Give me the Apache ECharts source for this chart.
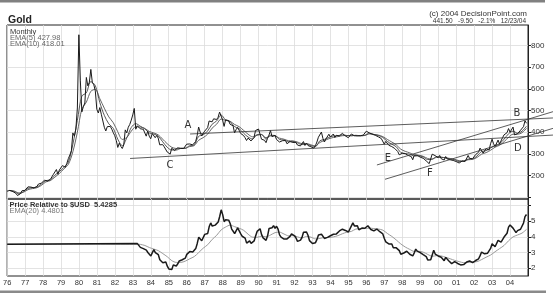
<!DOCTYPE html>
<html><head><meta charset="utf-8">
<script src="https://cdn.jsdelivr.net/npm/echarts@6/dist/echarts.min.js"></script>
<style>html,body{margin:0;padding:0;background:#fff}#c{width:554px;height:294px}</style>
</head><body><div id="c"></div>
<script>
// ---------------- DATA ----------------
const startYear = 1976;               // first month = Jan 1976
// Gold, monthly (Jan 1976 .. Dec 2004)
const goldMonthly = [
 128,132,132,128,126,126,118,108,114,117,130,134,
 132,136,148,149,147,141,143,145,150,161,161,165,
 173,179,184,175,176,183,188,206,212,228,206,226,
 227,246,242,239,257,279,295,315,397,382,415,512,
 850,637,494,518,535,653,614,631,690,629,619,590,
 506,489,514,483,480,423,406,426,428,427,414,398,
 384,362,330,350,335,325,342,411,397,423,436,456,
 480,510,414,430,437,416,423,414,405,382,405,382,
 370,394,395,375,385,373,342,348,343,333,329,309,
 303,299,326,322,316,317,328,334,325,326,325,327,
 345,339,346,340,342,345,357,384,424,401,383,391,
 405,405,421,452,454,448,462,454,459,469,493,499,
 457,427,457,451,454,437,437,430,397,412,422,410,
 395,387,385,375,362,373,368,360,367,376,408,401,
 415,407,368,368,363,352,372,387,408,380,385,386,
 367,362,355,358,361,367,362,347,354,357,366,353,
 354,353,341,336,337,343,357,339,349,339,334,333,
 330,327,338,355,377,378,401,372,355,369,371,391,
 378,381,392,376,386,386,383,386,395,389,383,383,
 375,376,392,389,384,387,383,382,384,383,387,387,
 405,401,397,392,391,383,386,387,379,379,371,369,
 345,358,349,340,345,334,326,325,332,311,296,290,
 303,297,301,309,293,296,288,273,294,292,294,288,
 285,288,280,286,268,262,255,255,299,300,292,288,
 283,293,278,276,272,288,277,278,273,264,270,274,
 265,267,258,264,267,270,265,273,293,279,275,278,
 282,297,302,308,327,318,304,312,324,317,318,347,
 368,347,334,336,364,346,354,375,388,384,398,417,
 400,396,424,388,395,393,391,409,416,426,453,441.5
];
// EMA(5) and EMA(10) read at quarter ends (Mar, Jun, Sep, Dec) from 1976
const ema5Quarterly = [
 131,127,115,126, 141,144,147,161, 177,180,202,219, 238,262,345,455,
 567,582,634,615, 537,478,439,418, 368,338,374,422, 440,428,416,397,
 392,382,356,331, 318,318,325,326, 338,342,381,388, 406,437,452,480,
 457,449,426,417, 396,378,369,389, 390,368,386,385, 367,364,357,358,
 351,343,346,338, 334,361,367,376, 383,384,388,385, 384,386,384,386,
 396,390,385,376, 358,345,333,307, 302,299,290,291, 286,274,276,287,
 285,282,277,273, 265,267,276,277, 291,311,315,327, 340,347,368,393,
 405,396,405,428
];
const ema10Quarterly = [
 130,128,120,123, 135,140,144,155, 171,177,193,210, 231,252,310,400,
 507,539,589,598, 555,511,471,444, 402,367,376,405, 425,424,418,404,
 397,388,368,347, 331,325,327,326, 334,338,363,375, 391,419,437,461,
 455,451,436,426, 409,391,379,386, 389,375,383,383, 373,368,361,360,
 355,348,348,342, 337,353,362,370, 376,380,384,385, 384,385,384,385,
 392,390,387,380, 367,355,342,322, 312,305,296,294, 289,279,276,284,
 284,282,279,275, 269,268,273,275, 284,299,306,317, 331,340,356,377,
 391,391,398,418
];
// Price relative to $USD: flat level before the series starts, then monthly from Apr 1983
const relFlatValue = 3.53;
const relStartMonth = 87;             // Apr 1983 (months after Jan 1976)
const relMonthly = [
 3.57,3.59,3.33,3.35,3.25,3.24,3.15,3.00,2.98,
 2.78,2.99,3.18,3.00,2.88,2.86,2.54,2.50,2.35,2.33,2.40,2.13,
 1.95,1.85,1.92,2.20,2.11,2.14,2.28,2.46,2.38,2.54,2.60,2.64,
 2.88,2.95,3.06,3.04,3.03,3.06,3.25,3.58,3.98,4.03,3.75,3.76,
 4.16,4.09,4.22,4.66,4.89,4.69,4.59,4.75,4.79,4.95,5.30,5.73,
 5.42,4.97,5.10,5.20,5.07,4.85,4.50,4.36,4.21,4.27,4.57,4.49,
 4.21,4.04,3.98,3.92,3.60,3.53,3.75,3.58,3.58,3.74,4.06,4.35,
 4.41,4.52,4.14,3.94,3.97,3.78,4.07,4.54,4.52,4.58,4.72,4.55,
 4.68,4.49,4.13,3.98,3.97,3.86,3.87,3.87,3.88,4.03,4.19,4.30,
 4.07,3.93,3.71,3.67,3.79,3.97,4.30,4.29,4.31,4.10,3.76,3.71,
 3.58,3.54,3.63,3.84,4.12,4.09,4.17,4.08,3.90,3.96,3.97,4.07,
 4.07,4.06,4.17,4.10,4.19,4.29,4.38,4.32,4.49,4.58,4.41,4.31,
 4.31,4.38,4.70,4.89,4.70,4.72,4.71,4.45,4.45,4.56,4.54,4.55,
 4.60,4.71,4.60,4.47,4.45,4.38,4.45,4.50,4.40,4.33,4.34,4.19,
 3.90,3.68,3.70,3.55,3.62,3.55,3.31,3.24,3.30,3.35,3.12,2.89,
 2.86,2.97,2.93,3.08,2.99,2.89,2.90,2.78,2.98,3.22,3.09,3.10,
 2.99,2.90,2.86,2.79,2.74,2.53,2.51,2.54,2.65,3.14,2.90,2.80,
 2.78,2.86,2.70,2.59,2.48,2.69,2.61,2.47,2.37,2.29,2.27,2.42,
 2.37,2.30,2.25,2.21,2.31,2.23,2.25,2.39,2.50,2.46,2.38,2.36,
 2.35,2.49,2.49,2.60,2.80,3.03,2.96,2.92,2.98,2.96,3.04,3.26,
 3.56,3.59,3.37,3.31,3.78,3.79,3.66,3.67,3.99,4.08,4.23,4.62,
 4.76,4.66,4.56,4.49,4.27,4.40,4.52,4.49,4.61,4.88,5.29,5.43
];
// EMA(20) of the relative, quarter ends from Jun 1983
const relEmaStartMonth = 89;          // Jun 1983
const relEma20Quarterly = [
 3.52,3.45,3.32,
 3.22,3.12,2.93,2.73, 2.48,2.37,2.37,2.45, 2.60,2.74,3.00,3.28, 3.50,3.84,4.10,4.45,
 4.63,4.75,4.65,4.55, 4.42,4.17,3.98,3.97, 4.05,4.00,4.12,4.27, 4.30,4.18,4.07,4.08,
 4.00,3.93,4.03,3.98, 3.87,3.90,3.96,3.96, 4.00,4.08,4.20,4.30, 4.35,4.50,4.52,4.53,
 4.56,4.53,4.50,4.43, 4.22,4.03,3.80,3.55, 3.35,3.20,3.07,3.08, 3.02,2.88,2.76,2.80,
 2.78,2.70,2.60,2.50, 2.42,2.35,2.37,2.40, 2.42,2.55,2.70,2.84, 3.05,3.25,3.45,3.75,
 4.00,4.12,4.24,4.48
];
const priceTicks = [200,300,400,500,600,700,800];
const priceGrid  = [100,200,300,400,500,600,700,800];
const relTicks = [2,3,4,5];
const relGrid  = [2,3,4,5,6];
// hand-drawn trend lines [year, price] -> [year, price], and their letters
const trendLines = [
 [[1986.19,392],[2006.39,466]],
 [[1982.85,279],[2006.39,387]],
 [[1996.59,249],[2006.39,495]],
 [[1997.04,183],[2006.39,418]]
];
const trendLetters = [
 ['A',1986.07,433],['B',2004.39,489],['C',1985.07,249],
 ['D',2004.44,327],['E',1997.2,281],['F',1999.54,212]
];

// ---------------- CHART ----------------
const mx = i => startYear + i / 12;
const priceData = goldMonthly.map((v,i)=>[mx(i), v]);
const e5Data = ema5Quarterly.map((v,k)=>[mx(3*k+2), v]);
const e10Data = ema10Quarterly.map((v,k)=>[mx(3*k+2), v]);
const relData = [[startYear, relFlatValue]].concat(relMonthly.map((v,i)=>[mx(relStartMonth+i), v]));
const relEmaData = [[startYear, relFlatValue],[mx(relStartMonth), relFlatValue]]
  .concat(relEma20Quarterly.map((v,k)=>[mx(relEmaStartMonth+3*k), v]));

const chart = echarts.init(document.getElementById('c'), null, {renderer:'canvas'});
const FONT = 'Liberation Sans, Arial, sans-serif';
const gridLine = {show:true, lineStyle:{color:'#dcdcdc', width:0.8}};
const xCommon = {type:'value', min:1976, max:2005, interval:1, splitLine:gridLine,
  axisLine:{show:false}, axisTick:{show:false}};
const yCommon = {type:'value', position:'right',
  axisLine:{show:true, lineStyle:{color:'#222', width:1}},
  axisTick:{show:true, length:3, lineStyle:{color:'#222'}},
  axisLabel:{fontSize:8, color:'#333', margin:3, fontFamily:FONT},
  splitLine:gridLine};

chart.setOption({
  animation:false,
  backgroundColor:'#fff',
  grid:[
    {left:7, right:26, top:25, height:174, show:true, borderColor:'#222', borderWidth:1, backgroundColor:'transparent'},
    {left:7, right:26, top:199, height:77, show:true, borderColor:'#222', borderWidth:1, backgroundColor:'transparent'}
  ],
  xAxis:[
    Object.assign({gridIndex:0, axisLabel:{show:false}}, xCommon),
    Object.assign({gridIndex:1, axisLabel:{show:true, fontSize:7.5, color:'#333', margin:3, fontFamily:FONT,
      showMaxLabel:false, formatter:v=>String(v).slice(2)}}, xCommon)
  ],
  yAxis:[
    Object.assign({}, yCommon, {gridIndex:0, min:92, max:895,
      axisLabel:Object.assign({}, yCommon.axisLabel, {customValues:priceTicks}),
      axisTick:Object.assign({}, yCommon.axisTick, {customValues:priceGrid})}),
    Object.assign({}, yCommon, {gridIndex:1, min:1.5, max:6.42,
      axisLabel:Object.assign({}, yCommon.axisLabel, {customValues:relTicks}),
      axisTick:Object.assign({}, yCommon.axisTick, {customValues:relGrid})})
  ],
  series:[
    {type:'line', xAxisIndex:0, yAxisIndex:0, data:e10Data, showSymbol:false, smooth:0.3,
      lineStyle:{color:'#555', width:0.9}, z:2},
    {type:'line', xAxisIndex:0, yAxisIndex:0, data:e5Data, showSymbol:false, smooth:0.3,
      lineStyle:{color:'#444', width:0.9}, z:2},
    {type:'line', xAxisIndex:0, yAxisIndex:0, data:priceData, showSymbol:false,
      lineStyle:{color:'#1a1a1a', width:1}, z:3},
    {type:'line', xAxisIndex:1, yAxisIndex:1, data:relEmaData, showSymbol:false, smooth:0.3,
      lineStyle:{color:'#9a9a9a', width:1}, z:2},
    {type:'line', xAxisIndex:1, yAxisIndex:1, data:relData, showSymbol:false,
      lineStyle:{color:'#1a1a1a', width:1.5}, z:3}
  ]
});

const g = [];
// scan edges
g.push({type:'rect', shape:{x:0,y:0,width:545,height:2.5}, style:{fill:'#808080'}, silent:true});
g.push({type:'rect', shape:{x:0,y:290.5,width:546,height:2.5}, style:{fill:'#8a8a8a'}, silent:true});
// texts
const txt = (t,x,y,opt) => g.push({type:'text', silent:true, z:50, style:Object.assign({text:t, x:x, y:y,
  font:'7.5px '+FONT, fill:'#333', textVerticalAlign:'middle'}, opt||{})});
txt('Gold', 8, 20, {font:'bold 10.5px '+FONT, fill:'#222'});
txt('(c) 2004 DecisionPoint.com', 527, 14, {font:'8px '+FONT, textAlign:'right', fill:'#333'});
txt('441.50   -9.50   -2.1%   12/23/04', 526, 21.2, {font:'6.5px '+FONT, textAlign:'right', fill:'#333'});
txt('Monthly', 10, 31.5, {fill:'#333'});
txt('EMA(5) 427.98', 10, 37.5, {fill:'#666'});
txt('EMA(10) 418.01', 10, 44, {fill:'#666'});
txt('Price Relative to $USD  5.4285', 9.5, 204.5, {font:'bold 7.5px '+FONT, fill:'#333'});
txt('EMA(20) 4.4801', 9.5, 211, {fill:'#777'});
// hand-drawn trend lines and letters, placed through the price scales
trendLines.forEach(([a,b])=>{
  const p1 = chart.convertToPixel({xAxisIndex:0, yAxisIndex:0}, a);
  const p2 = chart.convertToPixel({xAxisIndex:0, yAxisIndex:0}, b);
  g.push({type:'line', silent:true, z:40, shape:{x1:p1[0],y1:p1[1],x2:p2[0],y2:p2[1]},
    style:{stroke:'#333', lineWidth:0.8}});
});
trendLetters.forEach(([t,x,y])=>{
  const p = chart.convertToPixel({xAxisIndex:0, yAxisIndex:0}, [x,y]);
  g.push({type:'text', silent:true, z:45, style:{text:t, x:p[0], y:p[1], font:'10px DejaVu Sans, sans-serif',
    fill:'#333', textAlign:'center', textVerticalAlign:'middle'}});
});
chart.setOption({graphic:g});
</script></body></html>
